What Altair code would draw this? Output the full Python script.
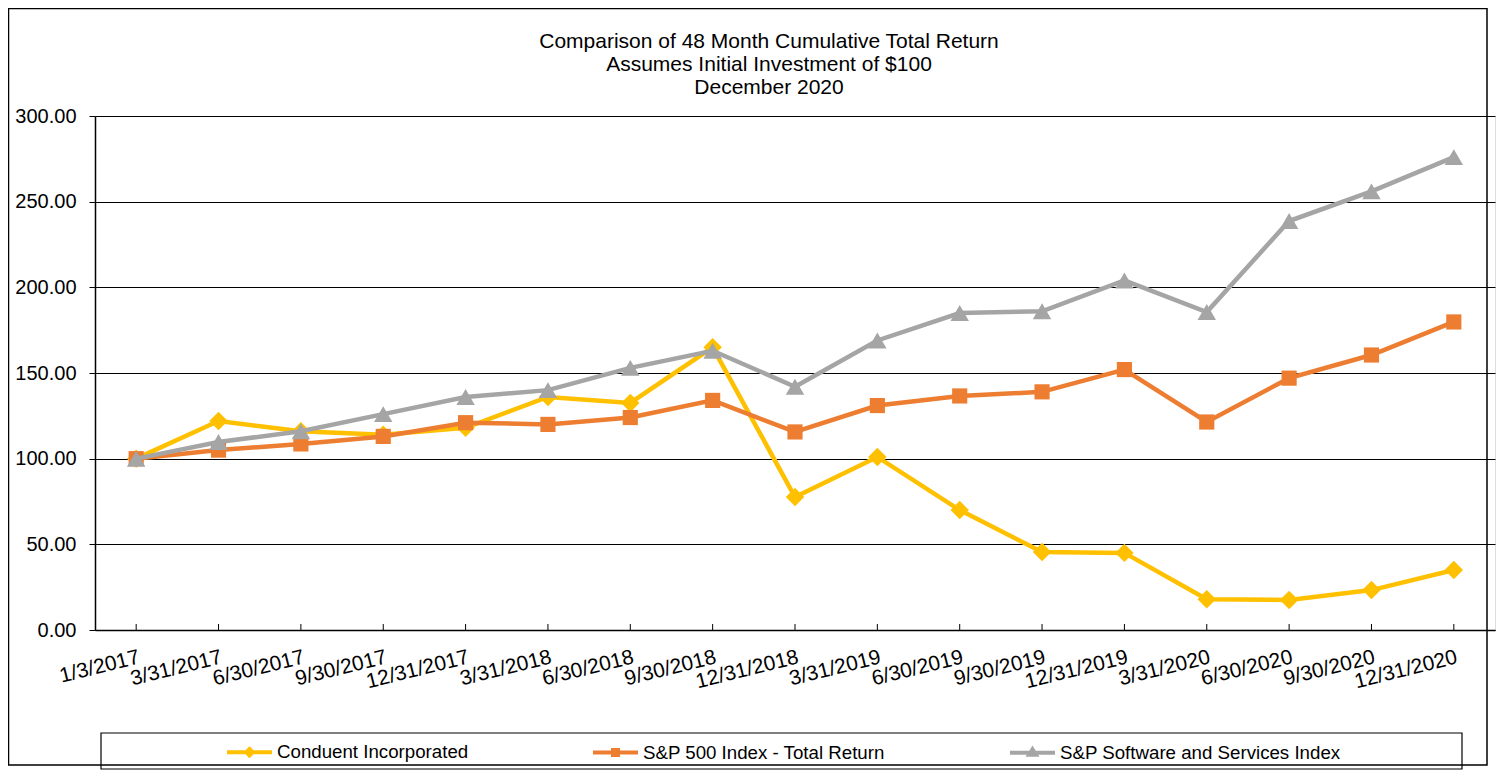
import altair as alt
import pandas as pd

dates = ["1/3/2017", "3/31/2017", "6/30/2017", "9/30/2017", "12/31/2017",
         "3/31/2018", "6/30/2018", "9/30/2018", "12/31/2018", "3/31/2019",
         "6/30/2019", "9/30/2019", "12/31/2019", "3/31/2020", "6/30/2020",
         "9/30/2020", "12/31/2020"]
series = ["Conduent Incorporated", "S&P 500 Index - Total Return",
          "S&P Software and Services Index"]
conduent = [100.0, 122.0, 116.0, 114.0, 118.0, 136.0, 132.5, 165.0, 77.6, 101.0,
            70.0, 45.5, 45.0, 18.0, 17.5, 23.3, 35.0]
sp500 = [100.0, 105.0, 108.6, 113.0, 121.0, 120.0, 124.0, 134.0, 115.6, 131.0,
         136.6, 139.0, 152.0, 121.4, 147.0, 160.5, 179.8]
software = [100.0, 109.7, 116.0, 126.0, 136.0, 140.0, 153.0, 163.0, 142.0, 169.0,
            185.0, 186.0, 204.0, 185.6, 238.7, 256.0, 276.0]
title_lines = ["Comparison of 48 Month Cumulative Total Return",
               "Assumes Initial Investment of $100", "December 2020"]
colors = ["#FFC000", "#ED7D31", "#A5A5A5"]
shapes = ["diamond", "square", "triangle-up"]
sizes = [340, 230, 340]
legend_shapes = [
    "M-1,0L1,0M0,-0.14L0.14,0L0,0.14L-0.14,0Z",
    "M-1,0L1,0M-0.11,-0.11L0.11,-0.11L0.11,0.11L-0.11,0.11Z",
    "M-1,0L1,0M0,-0.15L0.15,0.09L-0.15,0.09Z",
]

rows = []
for s, vals in zip(series, [conduent, sp500, software]):
    for d, v in zip(dates, vals):
        rows.append({"date": d, "series": s, "value": v})
df = pd.DataFrame(rows)

W, H = 1400, 514
FONT = "Liberation Sans"

xscale = alt.Scale(type="point", padding=0.5)
xenc = alt.X("date:O", sort=dates, scale=xscale,
             axis=alt.Axis(title=None, labelAngle=-14, labelAlign="right",
                           labelBaseline="top", labelPadding=16, tickSize=0,
                           labelFontSize=21, labelFont=FONT, labelColor="black",
                           domainColor="black", domainWidth=1.5, grid=False))
yenc = alt.Y("value:Q", scale=alt.Scale(domain=[0, 300]),
             axis=alt.Axis(title=None, values=[0, 50, 100, 150, 200, 250, 300],
                           format=".2f", tickSize=6, tickColor="black",
                           labelPadding=13, labelFontSize=20, labelFont=FONT,
                           labelColor="black", domainColor="black", domainWidth=1.5,
                           grid=True, gridColor="black", gridWidth=1))

base = alt.Chart(df)
layers = []
ticks = alt.Chart(pd.DataFrame({"date": dates})).mark_rule(color="black", strokeWidth=1).encode(
    x=alt.X("date:O", sort=dates, scale=xscale), y=alt.value(H - 6), y2=alt.value(H))
layers.append(ticks)
for s, c, sh, sz in zip(series, colors, shapes, sizes):
    sub = base.transform_filter(alt.datum.series == s)
    layers.append(sub.mark_line(color=c, strokeWidth=4.5).encode(x=xenc, y=yenc))
    layers.append(sub.mark_point(color=c, filled=True, opacity=1, shape=sh, size=sz).encode(x=xenc, y=yenc))

legend_layer = base.mark_point(filled=False, opacity=0).encode(
    x=xenc, y=yenc,
    color=alt.Color("series:N", scale=alt.Scale(domain=series, range=colors),
                    legend=alt.Legend(title=None, orient="none", direction="horizontal",
                                      columns=3, legendX=130, legendY=611.5, padding=0,
                                      columnPadding=116, symbolSize=2025,
                                      symbolStrokeWidth=4, symbolOpacity=1,
                                      labelOffset=3, labelFontSize=18.7, labelFont=FONT,
                                      labelColor="black", labelLimit=400)),
    shape=alt.Shape("series:N", scale=alt.Scale(domain=series, range=legend_shapes),
                    legend=None),
)
layers.append(legend_layer)

one = pd.DataFrame({"a": [0]})
legend_box = alt.Chart(one).mark_rect(fill=None, stroke="black", strokeWidth=1.2).encode(
    x=alt.value(6), x2=alt.value(1367), y=alt.value(617), y2=alt.value(653))
outer_box = alt.Chart(one).mark_rect(fill=None, stroke="black", strokeWidth=1.5).encode(
    x=alt.value(-86.5), x2=alt.value(1392), y=alt.value(-107.5), y2=alt.value(649))
title = alt.Chart(one).mark_text(font=FONT, fontSize=21, lineHeight=23, color="black",
                                 align="center", baseline="top").encode(
    x=alt.value(W / 2 - 26), y=alt.value(-85), text=alt.value(title_lines))
layers = [outer_box, legend_box, title] + layers

chart = alt.layer(*layers).properties(
    width=W, height=H,
    autosize=alt.AutoSizeParams(type="none"),
    padding={"left": 87, "top": 108, "right": 1, "bottom": 144},
).configure_view(stroke="#808080", strokeWidth=2).configure(background="white")

chart.save("out.html", embed_options={"renderer": "svg", "actions": False})
